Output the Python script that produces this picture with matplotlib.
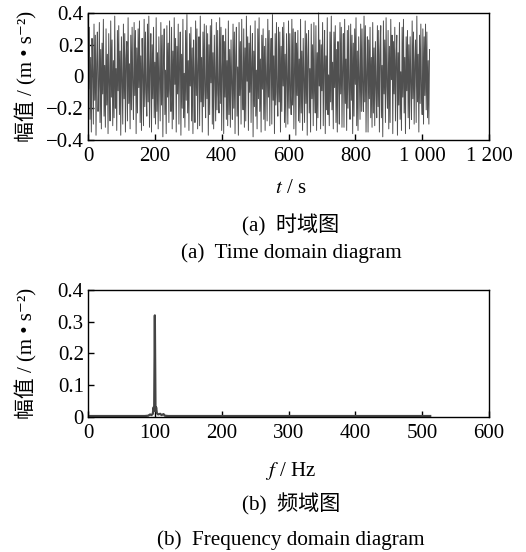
import numpy as np
import matplotlib
matplotlib.use("Agg")
from matplotlib import pyplot as plt

plt.rcParams['font.family'] = ['Liberation Serif', 'Noto Sans CJK SC', 'DejaVu Serif']
plt.rcParams['mathtext.fontset'] = 'stix'
plt.rcParams['axes.unicode_minus'] = True

# acceleration samples (hundredths of m/s^2), one every 2 s
ACC_STR = """
39 -8 31 -27 12 -35 24 3 -30 33 -15 26 -37 9 28 -22 -6 34 -29 17 -33 21 -11 36 -25 7 -32 30 -18 14 -36 27 -4 -28 35 -13
23 -31 10 -26 38 -20 5 -34 29 -9 32 -24 16 -37 25 -2 -30 33 -14 27 -35 11 22 -28 37 -17 8 -33 26 -21 31 -6 -27 34 -12 29
-36 18 -23 30 -7 35 -29 13 -34 24 1 -31 36 -19 28 -10 -25 33 -16 38 -32 6 27 -35 20 -14 31 -26 9 -30 37 -22 15 -33 25 -3
-28 34 -18 26 -38 11 30 -24 4 -36 32 -13 21 -29 35 -8 -22 31 -33 16 -27 37 -5 24 -35 19 -11 33 -30 8 28 -37 14 -20 36 -26
2 -32 29 -15 39 -23 10 -34 27 -6 31 -28 18 -36 23 -1 -29 35 -12 30 -33 7 25 -31 38 -16 12 -35 28 -19 33 -9 -26 32 -14 27
-37 20 -24 32 -4 36 -30 15 -33 26 -2 -28 34 -21 29 -11 -23 37 -17 31 -34 5 26 -36 22 -13 30 -27 10 -31 35 -24 17 -32 23 -5
-27 33 -20 28 -36 13 31 -25 6 -37 34 -12 22 -30 36 -7 -21 30 -32 18 -28 38 -3 25 -34 21 -10 32 -29 9 27 -38 16 -19 35 -25
4 -33 30 -14 37 -22 11 -35 26 -8 30 -27 19 -34 24 -3 -28 36 -13 29 -31 8 24 -30 39 -15 13 -36 27 -18 34 -10 -25 31 -16 28
-35 19 -22 31 -6 34 -29 14 -32 27 -1 -30 35 -20 27 -12 -24 36 -18 30 -33 4 28 -37 21 -12 29 -28 11 -29 36 -23 16 -34 24 -4
-29 35 -17 27 -37 12 29 -23 5 -35 33 -14 20 -31 34 -9 -23 32 -34 15 -26 40 -6 23 -33 20 -9 34 -31 7 29 -36 13 -21 37 -24
1 -31 28 -16 38 -21 9 -33 28 -7 32 -29 17 -35 22 -2 -30 34 -11 31 -32 6 27 -32 36 -17 11 -34 29 -20 32 -8 -27 33 -15 26
-36 21 -25 30 -5 37 -31 16 -34 25 -3 -27 33 -22 30 -10 -22 38 -16 32 -35 3 25 -35 23 -14 31 -26 12 -32 34 -23 18 -31 22 -6
-26 32 -19 29 -35 14 32 -26 7 -38 35 -11 23 -29 37 -6 -20 29 -33 19 -29 36 -2 26 -36 22 -11 31 -28 10 26 -37 15 -18 34 -27
3 -34 31 -13 36 -23 12 -36 25 -9 29 -26 20 -33 25 -4 -27 35 -14 28 -30 9 23 -29 38 -16 14 -35 26 -17 33 -11 -24 30 -30 25
-12 33 -21 28 -26 10 -30 17
"""
acc = np.array([int(v) for v in ACC_STR.split()]) / 100.0
t = np.arange(len(acc)) * 2

# amplitude spectrum
freq = [0, 85, 90, 93, 95, 97, 98, 99, 100, 101, 102, 103, 105, 108, 110, 113, 115, 120, 200, 300, 400, 500, 512]
amp = [0.003, 0.003, 0.004, 0.008, 0.006, 0.01, 0.03, 0.02, 0.32, 0.02, 0.03, 0.012, 0.008, 0.01,
       0.006, 0.009, 0.004, 0.003, 0.003, 0.003, 0.003, 0.003, 0.003]

t_ticks = [0, 200, 400, 600, 800, 1000, 1200]
t_labels = ['0', '200', '400', '600', '800', '1 000', '1 200']
acc_ticks = [-0.4, -0.2, 0, 0.2, 0.4]
acc_labels = ['\u22120.4', '\u22120.2', '0', '0.2', '0.4']
f_ticks = [0, 100, 200, 300, 400, 500, 600]
amp_ticks = [0, 0.1, 0.2, 0.3, 0.4]
amp_labels = ['0', '0.1', '0.2', '0.3', '0.4']

ylab = '幅值 / (m \u2022 s\u207b\u00b2)'
fs = 15
cap = 15.2

fig = plt.figure(figsize=(5.26, 5.52), dpi=100)
ax1 = fig.add_axes([0.1673, 0.7464, 0.7624, 0.2301])
ax2 = fig.add_axes([0.1673, 0.2446, 0.7624, 0.2301])

ax1.plot(t, acc, color='#505050', lw=0.7, clip_on=False)
ax1.set_xlim(0, 1200)
ax1.set_ylim(-0.4, 0.4)
ax1.set_xticks(t_ticks)
ax1.set_xticklabels(t_labels)
ax1.set_yticks(acc_ticks)
ax1.set_yticklabels(acc_labels)

ax2.plot(freq, amp, color='#444444', lw=1.6)
ax2.set_xlim(0, 600)
ax2.set_ylim(0, 0.4)
ax2.set_xticks(f_ticks)
ax2.set_yticks(amp_ticks)
ax2.set_yticklabels(amp_labels)

for ax in (ax1, ax2):
    for s in ax.spines.values():
        s.set_linewidth(1.0)
    ax.tick_params(direction='in', length=4, width=1.0, labelsize=fs)
    ax.tick_params(axis='x', pad=5)
    ax.tick_params(axis='y', pad=3)
    ax.set_ylabel(ylab, fontsize=fs)
    ax.yaxis.set_label_coords(-0.127, 0.5)

fig.text(0.553, 0.659, '$t$ / s', fontsize=fs, ha='center', va='center')
fig.text(0.553, 0.592, '(a)  时域图', fontsize=cap, ha='center', va='center')
fig.text(0.553, 0.542, '(a)  Time domain diagram', fontsize=cap, ha='center', va='center')
fig.text(0.553, 0.146, '$f$ / Hz', fontsize=fs, ha='center', va='center')
fig.text(0.553, 0.086, '(b)  频域图', fontsize=cap, ha='center', va='center')
fig.text(0.553, 0.022, '(b)  Frequency domain diagram', fontsize=cap, ha='center', va='center')

fig.savefig('out.png', dpi=100)
